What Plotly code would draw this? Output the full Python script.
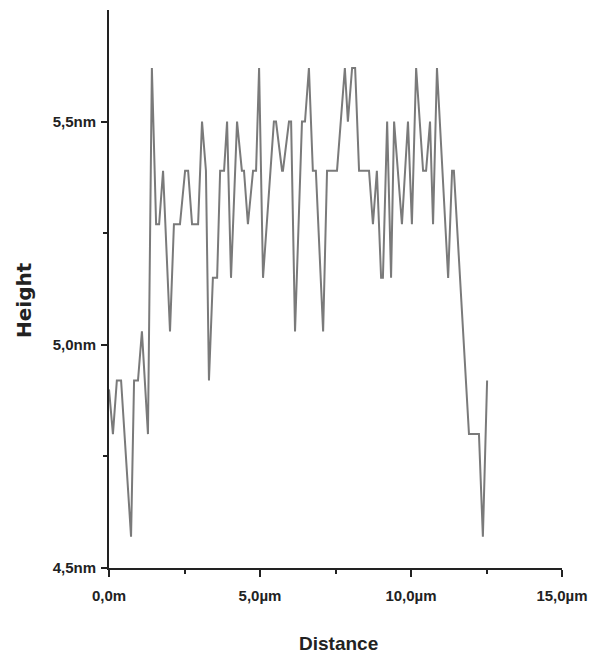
import plotly.graph_objects as go

# Profile data (distance in µm, height in nm)
distance_um = [0.00, 0.13, 0.26, 0.40, 0.73, 0.83, 0.96, 1.09, 1.29, 1.42,
               1.56, 1.66, 1.79, 2.02, 2.15, 2.35, 2.52, 2.62, 2.75, 2.95,
               3.08, 3.21, 3.31, 3.44, 3.58, 3.68, 3.81, 3.91, 4.04, 4.24,
               4.40, 4.47, 4.60, 4.77, 4.87, 4.97, 5.10, 5.46, 5.53, 5.73,
               5.76, 5.96, 6.03, 6.16, 6.39, 6.49, 6.62, 6.75, 6.85, 7.09,
               7.22, 7.55, 7.81, 7.91, 8.05, 8.15, 8.28, 8.61, 8.74, 8.87,
               9.01, 9.07, 9.21, 9.34, 9.44, 9.70, 9.90, 10.03, 10.17, 10.40,
               10.50, 10.63, 10.73, 10.86, 11.23, 11.36, 11.42, 11.92, 12.25, 12.38,
               12.52]
height_nm = [4.90, 4.80, 4.92, 4.92, 4.57, 4.92, 4.92, 5.03, 4.80, 5.62,
             5.27, 5.27, 5.39, 5.03, 5.27, 5.27, 5.39, 5.39, 5.27, 5.27,
             5.50, 5.39, 4.92, 5.15, 5.15, 5.39, 5.39, 5.50, 5.15, 5.50,
             5.39, 5.39, 5.27, 5.39, 5.39, 5.62, 5.15, 5.50, 5.50, 5.39,
             5.39, 5.50, 5.50, 5.03, 5.50, 5.50, 5.62, 5.39, 5.39, 5.03,
             5.39, 5.39, 5.62, 5.50, 5.62, 5.62, 5.39, 5.39, 5.27, 5.39,
             5.15, 5.15, 5.50, 5.15, 5.50, 5.27, 5.50, 5.27, 5.62, 5.39,
             5.39, 5.50, 5.27, 5.62, 5.15, 5.39, 5.39, 4.80, 4.80, 4.57,
             4.92]

x_tickvals = [0, 5, 10, 15]
x_ticktext = ["0,0m", "5,0µm", "10,0µm", "15,0µm"]
y_tickvals = [4.5, 5.0, 5.5]
y_ticktext = ["4,5nm", "5,0nm", "5,5nm"]

fig = go.Figure()
fig.add_trace(go.Scatter(
    x=distance_um, y=height_nm, mode="lines",
    line=dict(color="#7a7a7a", width=2),
    showlegend=False, hoverinfo="skip"))

tick_font = dict(family="Liberation Sans Narrow, Arial Narrow, Liberation Sans, Arial",
                 size=15, color="#222", weight="bold")

fig.update_layout(
    width=598, height=662,
    margin=dict(l=101, r=44, t=2, b=102),
    paper_bgcolor="white", plot_bgcolor="white",
    xaxis=dict(range=[0, 15], tickvals=x_tickvals, ticktext=x_ticktext,
               showgrid=False, zeroline=False, showline=True, linecolor="#222",
               linewidth=2, ticks="outside", ticklen=7, tickwidth=1.5,
               tickcolor="#222", tickfont=tick_font, ticklabelstandoff=6,
               minor=dict(tickvals=[2.5, 7.5, 12.5], ticks="outside", ticklen=4,
                          tickwidth=1.5, tickcolor="#222", showgrid=False)),
    yaxis=dict(range=[4.5, 5.75], tickvals=y_tickvals, ticktext=y_ticktext,
               showgrid=False, zeroline=False, showline=True, linecolor="#222",
               linewidth=2, ticks="outside", ticklen=6, tickwidth=1.5,
               tickcolor="#222", tickfont=tick_font, ticklabelstandoff=2,
               minor=dict(tickvals=[4.75, 5.25], ticks="outside", ticklen=4,
                          tickwidth=1.5, tickcolor="#222", showgrid=False)),
    annotations=[
        dict(text="Distance", xref="paper", yref="paper", x=0.5, y=0,
             xanchor="center", yanchor="middle", yshift=-75, xshift=3,
             showarrow=False,
             font=dict(family="Liberation Sans, Arial", size=19, color="#222", weight="bold")),
        dict(text="Height", xref="paper", yref="paper", x=0, y=0.5,
             xanchor="center", yanchor="middle", xshift=-85, yshift=-11,
             textangle=-90, showarrow=False,
             font=dict(family="DejaVu Sans", size=20, color="#222", weight="bold")),
    ],
)

fig.write_html("out.html")
